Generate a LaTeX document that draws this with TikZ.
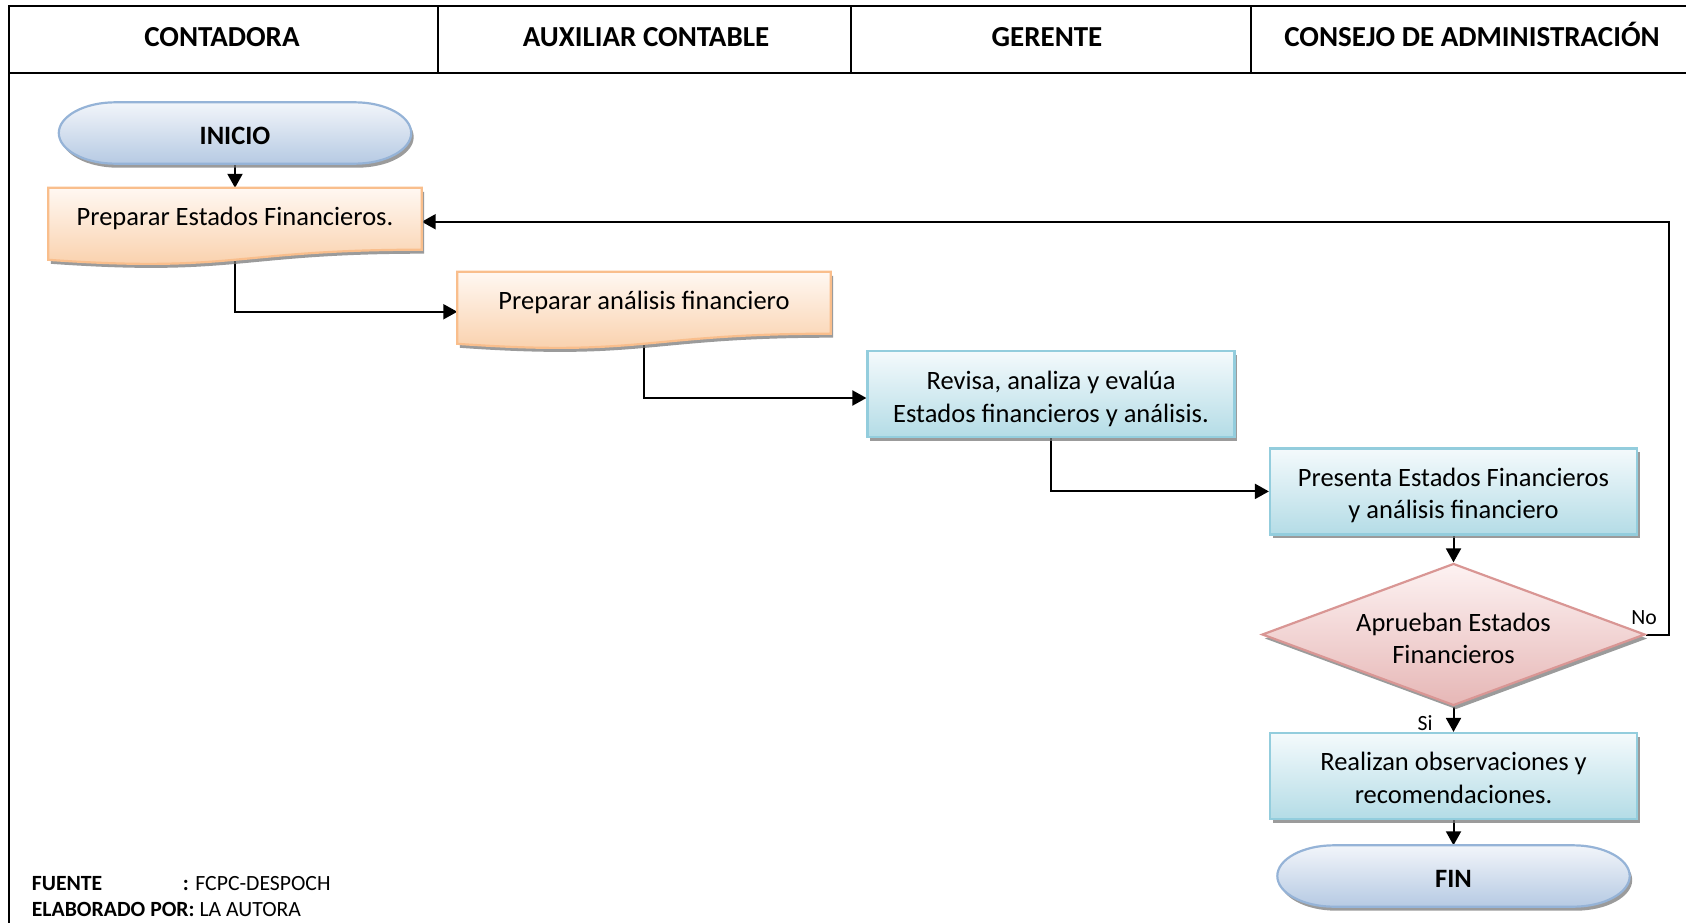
\documentclass[tikz,border=0pt]{standalone}
\usepackage{fontspec}
\setmainfont{Carlito}
\usetikzlibrary{arrows.meta,shapes.geometric,shadows,calc}

\definecolor{docline}{HTML}{F9BE8C}
\definecolor{doctop}{HTML}{FFF8F2}
\definecolor{docbot}{HTML}{F9CDA6}
\definecolor{taskline}{HTML}{93CDDD}
\definecolor{tasktop}{HTML}{F4FAFC}
\definecolor{taskbot}{HTML}{B4DCE6}
\definecolor{termline}{HTML}{95B3D7}
\definecolor{termtop}{HTML}{F2F5FA}
\definecolor{termbot}{HTML}{B6CAE3}
\definecolor{decline}{HTML}{D99694}
\definecolor{dectop}{HTML}{FDF2F2}
\definecolor{decbot}{HTML}{E6B7B6}
\definecolor{shadowgray}{HTML}{7A7A7A}

\pgfdeclarelayer{bg}
\pgfdeclarelayer{shp}
\pgfsetlayers{bg,shp,main}

% document symbol (wavy bottom) drawn around a text node
\newcommand\docshape[1]{%
  \path[docfill] (#1.north west) -- (#1.north east) -- (#1.south east)
    .. controls +(-186.5,0) and +(186.5,13.3) .. ($(#1.south west)+(0,10.1)$) -- cycle;}
% terminator with elliptical ends drawn around a text node
\newcommand\termshape[1]{%
  \path[termfill] ($(#1.north west)+(56.6,0)$) -- ($(#1.north east)+(-56.6,0)$)
    .. controls +(31.3,0) and +(0,-16.8) .. (#1.east)
    .. controls +(0,16.8) and +(31.3,0) .. ($(#1.south east)+(-56.6,0)$)
    -- ($(#1.south west)+(56.6,0)$)
    .. controls +(-31.3,0) and +(0,16.8) .. (#1.west)
    .. controls +(0,-16.8) and +(-31.3,0) .. ($(#1.north west)+(56.6,0)$) -- cycle;}
% taller first line, lowers two-line text inside its box
\newcommand\lowfirst[1]{\rule{0pt}{#1}}

\begin{document}
\begin{tikzpicture}[x=1pt,y=-1pt,
  shadowed/.style={drop shadow={shadow xshift=2.5pt,shadow yshift=-4pt,fill=shadowgray,opacity=0.75}},
  body/.style={font=\fontsize{26.5}{32.3}\selectfont,align=center,text=black},
  lanehead/.style={font=\fontsize{29}{35}\selectfont\bfseries,anchor=base},
  grid/.style={line width=2pt,line cap=rect},
  doctext/.style={body,minimum width=373pt,minimum height=61.5pt,inner sep=0pt},
  termtext/.style={font=\fontsize{26.5}{32.3}\selectfont\bfseries,minimum width=352pt,minimum height=61pt,
    inner sep=0pt,text height=22pt,text depth=0pt},
  docfill/.style={draw=docline,line width=2.2pt,top color=doctop,bottom color=docbot,shadowed},
  termfill/.style={draw=termline,line width=2.2pt,top color=termtop,bottom color=termbot,shadowed},
  taskbox/.style={body,draw=taskline,line width=2.2pt,top color=tasktop,bottom color=taskbot,
    minimum width=367pt,minimum height=86pt,inner sep=0pt,shadowed},
  decision/.style={body,diamond,aspect=2.7,draw=decline,line width=2.2pt,top color=dectop,bottom color=decbot,
    minimum width=383pt,minimum height=142pt,inner sep=0pt,shadowed},
  flow/.style={line width=2pt,-{Triangle[length=14pt,width=15pt]}},
  tag/.style={font=\fontsize{21.7}{26}\selectfont,inner sep=0pt},
  foot/.style={font=\fontsize{21.7}{26}\selectfont,inner sep=0pt,anchor=base west},
]
\useasboundingbox (0,0) rectangle (1686,923);

% swimlane header
\draw[grid] (8.6,6.5) -- (1686,6.5);
\draw[grid] (8.6,73) -- (1686,73);
\draw[grid] (8.6,6.5) -- (8.6,923);
\foreach \xs in {437.6,850.6,1250.6} \draw[grid] (\xs,6.5) -- (\xs,73);
\node[lanehead] (h1) at (222,47) {CONTADORA};
\node[lanehead] (h2) at (646,47) {AUXILIAR CONTABLE};
\node[lanehead] (h3) at (1047,47) {GERENTE};
\node[lanehead] (h4) at (1472,47) {CONSEJO DE ADMINISTRACIÓN};

% flow steps
\node[termtext] (ini) at (235,133) {INICIO};
\node[doctext] (p1) at (235,218.75) {Preparar Estados Financieros.};
\node[doctext] (p2) at (644,302.75) {Preparar análisis financiero};
\node[taskbox] (p3) at (1051,394) {\lowfirst{28pt}Revisa, analiza y evalúa\\Estados financieros y análisis.};
\node[taskbox] (p4) at (1453.5,491.4) {\lowfirst{27pt}Presenta Estados Financieros\\y análisis financiero};
\node[decision] (d) at (1453.5,634.5) {\lowfirst{26pt}Aprueban Estados\\Financieros};
\node[taskbox] (p5) at (1453.5,776) {\lowfirst{22pt}Realizan observaciones y\\recomendaciones.};
\node[termtext] (fin) at (1453.5,876) {FIN};

\begin{pgfonlayer}{shp}
  \docshape{p1}
  \docshape{p2}
  \termshape{ini}
  \termshape{fin}
\end{pgfonlayer}

% connectors
\begin{pgfonlayer}{bg}
  \draw[flow] (ini) -- (p1);
  \draw[flow] (p1.south) |- ([yshift=-9pt]p2.west);
  \draw[flow] (p2.south) |- ([yshift=-4pt]p3.west);
  \draw[flow] (p3.south) |- (p4.west);
  \draw[flow] (p4) -- (d);
  \draw[flow] (d.east) -- ++(22.5,0) |- ([yshift=-3pt]p1.east);
  \draw[flow] (d) -- (p5);
  \draw[flow] (p5) -- (fin);
\end{pgfonlayer}

\node[tag] (lno) at (1644,618) {No};
\node[tag] (lsi) at (1425,723) {Si};

% source note
\node[foot] (f1) at (31.7,890) {\textbf{FUENTE}};
\node[foot] (f1b) at (182.7,890) {\textbf{:} FCPC-DESPOCH};
\node[foot] (f2) at (31.7,916) {\textbf{ELABORADO POR:} LA AUTORA};
\end{tikzpicture}
\end{document}
